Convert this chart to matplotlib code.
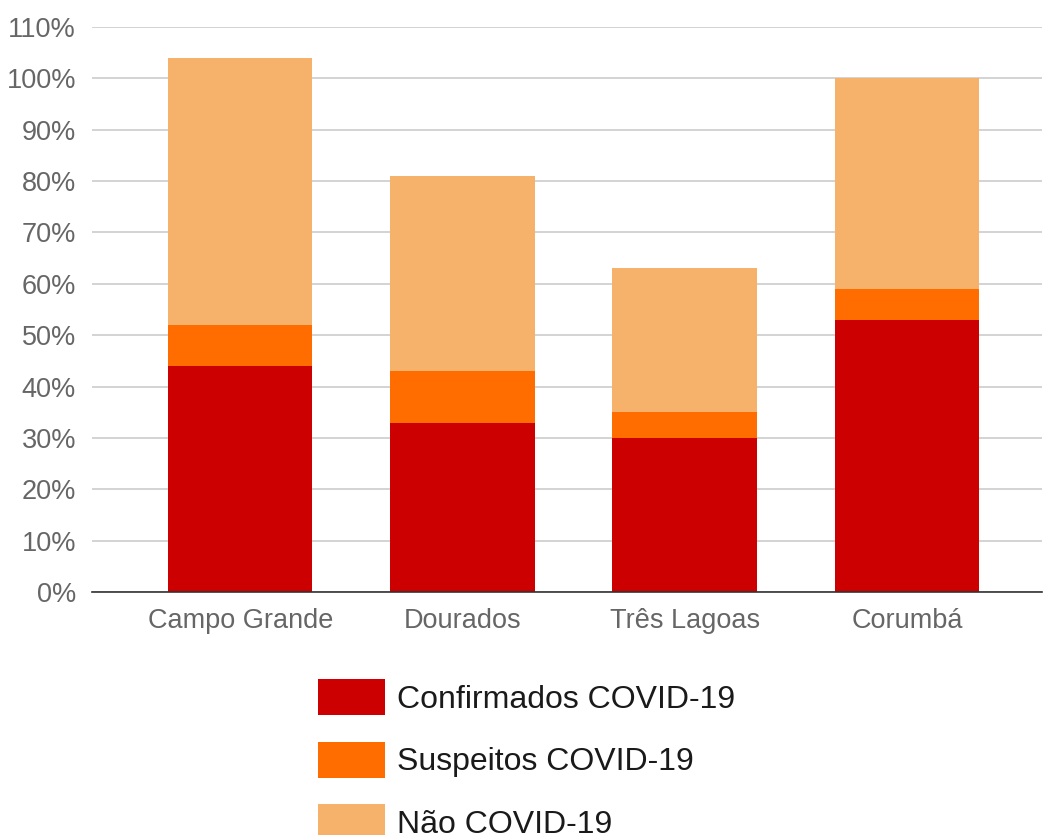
import matplotlib
matplotlib.use("Agg")
import matplotlib.pyplot as plt
import numpy as np

categories = ["Campo Grande", "Dourados", "Três Lagoas", "Corumbá"]
confirmados = [44, 33, 30, 53]
suspeitos = [8, 10, 5, 6]
nao_covid = [52, 38, 28, 41]
series_labels = ["Confirmados COVID-19", "Suspeitos COVID-19", "Não COVID-19"]
colors = ["#cc0000", "#ff6d01", "#f6b26b"]
yticks = list(range(0, 111, 10))

plt.rcParams['font.family'] = ['Liberation Sans', 'DejaVu Sans']

W, H = 1044, 835
fig = plt.figure(figsize=(W/100, H/100), dpi=100)
ax = fig.add_axes([92/W, 1-592/H, (1042-92)/W, (592-27)/H])

x = np.arange(len(categories))
bw = 0.65
c = np.array(confirmados) / 100
s = np.array(suspeitos) / 100
n = np.array(nao_covid) / 100
b1 = ax.bar(x, c, bw, color=colors[0], label=series_labels[0], zorder=3)
b2 = ax.bar(x, s, bw, bottom=c, color=colors[1], label=series_labels[1], zorder=3)
b3 = ax.bar(x, n, bw, bottom=c+s, color=colors[2], label=series_labels[2], zorder=3)

ax.set_xlim(-0.667, 3.608)
ax.set_ylim(0, 1.1)
ax.set_yticks([v/100 for v in yticks])
ax.set_yticklabels([f"{v}%" for v in yticks])
ax.yaxis.grid(True, color="#cccccc", lw=1.2, zorder=0)
ax.set_xticks(x)
ax.set_xticklabels(categories)
for sp in ["top", "right", "left"]:
    ax.spines[sp].set_visible(False)
ax.spines["bottom"].set_color("#333333")
ax.spines["bottom"].set_linewidth(1.2)
ax.spines["bottom"].set_zorder(4)
ax.tick_params(axis="both", length=0, colors="#666666", labelsize=19.5)
ax.tick_params(axis="y", pad=11.5)
ax.tick_params(axis="x", pad=11.5)

fs = 23
fig.legend(handles=[b1, b2, b3], labels=series_labels, loc="upper left",
           bbox_to_anchor=(318/W, 1-679/H), frameon=False, borderpad=0,
           borderaxespad=0, fontsize=fs, handlelength=2.1, handleheight=1.36,
           handletextpad=0.38, labelspacing=0.83, labelcolor="#1a1a1a")

fig.savefig("out.png", dpi=100, facecolor="white")
